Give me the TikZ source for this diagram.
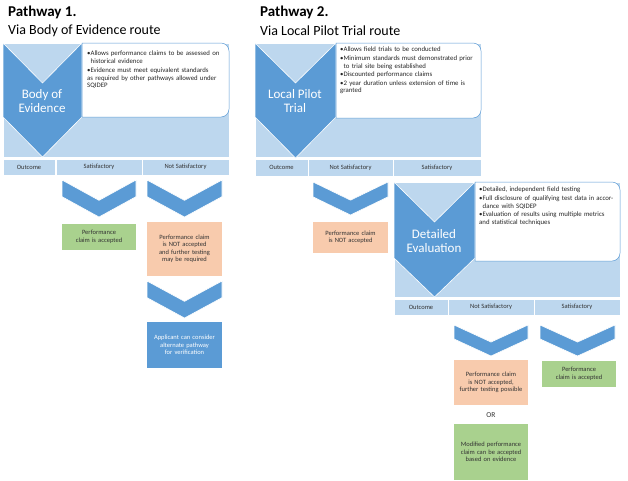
\documentclass[tikz,border=0pt]{standalone}
\usepackage{fontspec}
\setmainfont{Carlito}
\usetikzlibrary{calc}
\usetikzlibrary{positioning}

\definecolor{darkblue}{HTML}{5B9BD5}
\definecolor{lightblue}{HTML}{BDD7EE}
\definecolor{okgreen}{HTML}{A9D18E}
\definecolor{nogood}{HTML}{F8CBAD}

\tikzset{
  panel/.style={fill=lightblue, draw=white, line width=0.8pt},
  chev/.style={fill=darkblue, draw=white, line width=0.6pt},
  note/.style={fill=white, draw=darkblue, line width=0.5pt},
  cell/.style={fill=lightblue, draw=white, line width=0.8pt},
  celltext/.style={font=\fontsize{6.5}{7.5}\selectfont, text=black!80, align=center, inner sep=1pt},
  outtext/.style={font=\fontsize{6.5}{8}\selectfont, text=black!80, align=center, inner sep=1pt},
  bigtext/.style={font=\fontsize{13}{14}\selectfont, text=white, align=center},
  notetext/.style={font=\fontsize{6.8}{7.6}\selectfont, text=black!85, align=left, anchor=north west, inner sep=0pt},
  headline/.style={font=\fontsize{15}{16}\selectfont\bfseries, anchor=west, inner sep=0pt},
  subline/.style={font=\fontsize{14}{15}\selectfont, anchor=west, inner sep=0pt}
}

% filled box with centred text
\newcommand\boxat[6]{%
  \path[#4] (#2) rectangle (#3);
  \node[celltext, #5] (#1) at ($(#2)!.5!(#3)$) {#6};}
% large chevron: x0, y0, x1, yside, ytip, ynotch
\newcommand\bigchev[6]{%
  \path[chev] (#1,#2) -- ({(#1+#3)/2},#6) -- (#3,#2) -- (#3,#4)
    -- ({(#1+#3)/2},#5) -- (#1,#4) -- cycle;}
% small chevron: x0, y0, x1, y1
\newcommand\smallchev[4]{%
  \path[chev] (#1,#2) -- ({(#1+#3)/2},{#2+(#4-#2)*0.55}) -- (#3,#2)
    -- (#3,{#4-(#4-#2)*0.55}) -- ({(#1+#3)/2},#4) -- (#1,{#4-(#4-#2)*0.55}) -- cycle;}
\newcommand\itm[1]{\par\hangindent=3.5pt\hangafter=1\textbullet#1}

\begin{document}
\begin{tikzpicture}[x=1pt, y=-1pt]
  \useasboundingbox (0,0) rectangle (628,480);

  % titles
  \node[headline] (head1) at (8,12) {Pathway 1.};
  \node[subline] (sub1) at (8,31) {Via Body of Evidence route};
  \node[headline] (head2) at (260,12) {Pathway 2.};
  \node[subline] (sub2) at (260,31) {Via Local Pilot Trial route};

  % pathway 1
  \path[panel] (3,43) rectangle (229,157);
  \bigchev{3}{43}{82}{117}{157}{83}
  \node[bigtext] (body) at (42,101) {Body of\\Evidence};
  \path[note] (82,43) {[rounded corners=8pt] -- (229,43) -- (229,117)} -- (82,117) -- cycle;
  \node[notetext, text width=138pt] (bodynote) at (87,48)
    {\itm{Allows performance claims to be assessed on historical evidence}
     \vspace{1.5pt}\itm{Evidence must meet equivalent standards as required by other pathways allowed under SQIDEP}};

  \boxat{out1}{3,159}{55,175}{cell}{outtext}{Outcome}
  \boxat{sat1}{56,159}{142,175}{cell}{outtext}{Satisfactory}
  \boxat{nsat1}{142,159}{229,175}{cell}{outtext}{Not Satisfactory}

  \smallchev{62}{180}{136}{217}
  \smallchev{147}{180}{222}{217}
  \boxat{acc1}{62,224}{136,250}{fill=okgreen}{text width=66pt}{Performance claim is accepted}
  \boxat{rej1}{147,222}{222,276}{fill=nogood}{text width=66pt}{Performance claim is NOT accepted and further testing may be required}
  \smallchev{147}{281}{222}{318}
  \boxat{alt1}{147,322}{222,368}{fill=darkblue}{text width=66pt, text=white}{Applicant can consider alternate pathway for verification}

  % pathway 2
  \path[panel] (255,43) rectangle (481,157);
  \bigchev{255}{43}{336}{117}{158}{83}
  \node[bigtext] (pilot) at (295,101) {Local Pilot\\Trial};
  \path[note] (336,43) {[rounded corners=8pt] -- (481,43) -- (481,118)} -- (336,118) -- cycle;
  \node[notetext, text width=136pt] (pilotnote) at (340,44)
    {\itm{Allows field trials to be conducted}
     \vspace{1pt}\itm{Minimum standards must demonstrated prior to trial site being established}
     \vspace{1pt}\itm{Discounted performance claims}
     \vspace{1pt}\itm{2 year duration unless extension of time is granted}};

  \boxat{out2}{255,159}{308,176}{cell}{outtext}{Outcome}
  \boxat{nsat2}{308,159}{393,176}{cell}{outtext}{Not Satisfactory}
  \boxat{sat2}{393,159}{481,176}{cell}{outtext}{Satisfactory}

  \smallchev{313}{182}{388}{215}
  \boxat{rej2}{313,222}{388,253}{fill=nogood}{text width=66pt}{Performance claim is NOT accepted}

  % detailed evaluation
  \path[panel] (394,182) rectangle (620,297);
  \bigchev{394}{182}{475}{258}{297}{222}
  \node[bigtext] (detail) at (434,241) {Detailed\\Evaluation};
  \path[note] (475,182) {[rounded corners=8pt] -- (620,182) -- (620,261)} -- (475,261) -- cycle;
  \node[notetext, text width=136pt] (detailnote) at (479,184)
    {\itm{Detailed, independent field testing}
     \vspace{1pt}\itm{Full disclosure of qualifying test data in accordance with SQIDEP}
     \vspace{1pt}\itm{Evaluation of results using multiple metrics and statistical techniques}};

  \boxat{out3}{394,299}{448,315}{cell}{outtext}{Outcome}
  \boxat{nsat3}{448,299}{534,315}{cell}{outtext}{Not Satisfactory}
  \boxat{sat3}{534,299}{620,315}{cell}{outtext}{Satisfactory}

  \smallchev{454}{325}{528}{356}
  \smallchev{540}{325}{615}{356}
  \boxat{rej3}{454,360}{528,405}{fill=nogood}{text width=66pt}{Performance claim is NOT accepted, further testing possible}
  \boxat{acc3}{542,361}{616,387}{fill=okgreen}{text width=66pt}{Performance claim is accepted}
  \node[outtext, font=\fontsize{7.5}{8}\selectfont] (or) at (491,415) {OR};
  \boxat{mod3}{454,424}{528,480}{fill=okgreen}{text width=66pt}{Modified performance claim can be accepted based on evidence}
\end{tikzpicture}
\end{document}
